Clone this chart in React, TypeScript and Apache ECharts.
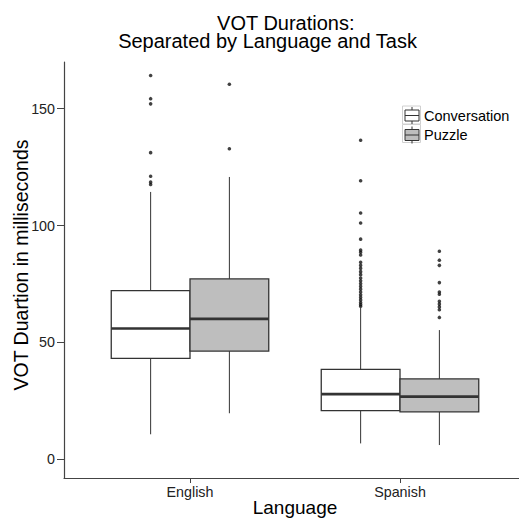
import React, { useEffect, useRef } from "react";
import * as echarts from "echarts";

const categories = ["English", "Spanish"];
const seriesNames = ["Conversation", "Puzzle"];
// [low whisker, Q1, median, Q3, high whisker]
const conversationStats = [
  [10.7, 43.2, 56.0, 72.2, 114.4],
  [6.8, 20.8, 27.9, 38.5, 64.8],
];
const puzzleStats = [
  [19.7, 46.3, 60.1, 77.2, 120.8],
  [6.1, 20.3, 26.8, 34.4, 55.3],
];
const conversationOutliers = [
  [164.2, 154.3, 152.1, 131.2, 121.1, 118.6, 117.6],
  [136.5, 119.2, 105.4, 101.1, 94.2, 89.5, 88.6, 87.4, 84.3, 83.0, 81.7, 80.3, 79.0, 77.6, 76.4, 75.2, 74.0, 72.8, 71.6, 70.4, 69.3, 68.2, 67.1, 66.2, 65.5],
];
const puzzleOutliers = [
  [160.5, 132.9],
  [89.0, 85.2, 83.0, 75.6, 71.6, 70.6, 67.6, 66.4, 65.2, 64.0, 60.7],
];
const yTicks = [0, 50, 100, 150];

const FONT = "Liberation Sans";
const BOX_W = 0.375;
const DODGE = [-0.1875, 0.1875];
const FILLS = ["#FFFFFF", "#BEBEBE"];

function boxSeries(name: string, stats: number[][], idx: number, fill: string) {
  return {
    name,
    type: "custom",
    itemStyle: { color: fill, borderColor: "#333" },
    data: stats.map((s, i) => [i + 1, ...s]),
    encode: { x: 0, y: [1, 2, 3, 4, 5] },
    renderItem: (params: any, api: any) => {
      const xc = api.value(0) + DODGE[idx];
      const lo = api.value(1), q1 = api.value(2), md = api.value(3), q3 = api.value(4), hi = api.value(5);
      const pLeft = api.coord([xc - BOX_W / 2, q3]);
      const pRight = api.coord([xc + BOX_W / 2, q1]);
      const pc = api.coord([xc, md]);
      const pLo = api.coord([xc, lo]);
      const pHi = api.coord([xc, hi]);
      const lineStyle = { stroke: "#333", lineWidth: 1 };
      return {
        type: "group",
        children: [
          { type: "line", shape: { x1: pc[0], y1: pHi[1], x2: pc[0], y2: pLeft[1] }, style: lineStyle },
          { type: "line", shape: { x1: pc[0], y1: pRight[1], x2: pc[0], y2: pLo[1] }, style: lineStyle },
          {
            type: "rect",
            shape: { x: pLeft[0], y: pLeft[1], width: pRight[0] - pLeft[0], height: pRight[1] - pLeft[1] },
            style: { fill, stroke: "#333", lineWidth: 1.3 },
          },
          { type: "line", shape: { x1: pLeft[0], y1: pc[1], x2: pRight[0], y2: pc[1] }, style: { stroke: "#333", lineWidth: 2.6 } },
        ],
      };
    },
  };
}

function outlierSeries(name: string, outs: number[][], idx: number) {
  const data: number[][] = [];
  outs.forEach((arr, i) => arr.forEach((v) => data.push([i + 1 + DODGE[idx], v])));
  return {
    name,
    type: "scatter",
    symbol: "circle",
    symbolSize: 3.6,
    itemStyle: { color: "#111" },
    data,
  };
}

const legendIcon = "path://M7,0L7,3M0,3L14,3L14,14L0,14ZM0,8.5L14,8.5M7,14L7,17";

export default function App() {
  const ref = useRef<HTMLDivElement>(null);
  useEffect(() => {
    if (!ref.current) return;
    const chart = echarts.init(ref.current, undefined, { renderer: "svg" });
    chart.setOption({
      animation: false,
      backgroundColor: "#fff",
      textStyle: { fontFamily: FONT },
      title: {
        text: "{a|VOT Durations:}\n{b|Separated by Language and Task}",
        left: 267.5,
        top: 14,
        textAlign: "center",
        padding: 0,
        textStyle: {
          fontFamily: FONT,
          fontSize: 20,
          fontWeight: "normal",
          color: "#000",
          lineHeight: 18,
          rich: {
            a: { fontFamily: FONT, fontSize: 20, color: "#000", lineHeight: 18, padding: [0, 0, 0, 36.6] },
            b: { fontFamily: FONT, fontSize: 20, color: "#000", lineHeight: 18 },
          },
        },
      },
      graphic: [
        { type: "rect", z: 1, shape: { x: 402.5, y: 106, width: 18, height: 18 }, style: { fill: "#fff", stroke: "#d0d0d0", lineWidth: 1 } },
        { type: "rect", z: 1, shape: { x: 402.5, y: 124.5, width: 18, height: 18 }, style: { fill: "#fff", stroke: "#d0d0d0", lineWidth: 1 } },
      ],
      legend: {
        orient: "vertical",
        left: 404.5,
        top: 106.5,
        padding: 0,
        itemWidth: 14,
        itemHeight: 17,
        itemGap: 1.5,
        selectedMode: false,
        textStyle: { fontFamily: FONT, fontSize: 14.5, color: "#000", lineHeight: 17 },
        data: seriesNames.map((n, i) => ({
          name: n,
          icon: legendIcon,
          itemStyle: { color: FILLS[i], borderColor: "#333", borderWidth: 1 },
        })),
      },
      grid: { left: 64, top: 62, width: 462, height: 416, containLabel: false, outerBoundsMode: "none" },
      xAxis: {
        type: "value",
        min: 0.4,
        max: 2.6,
        name: "Language",
        nameLocation: "middle",
        nameGap: 20,
        nameMoveOverlap: false,
        nameTextStyle: { fontFamily: FONT, fontSize: 19, color: "#000", lineHeight: 19 },
        axisLine: { show: true, onZero: false, lineStyle: { color: "#444", width: 1.2 } },
        axisTick: { show: true, length: 5, customValues: [1, 2], lineStyle: { color: "#444" } },
        axisLabel: {
          customValues: [1, 2],
          margin: 7,
          fontFamily: FONT,
          fontSize: 14.3,
          color: "#222",
          formatter: (v: number) => categories[Math.round(v) - 1] ?? "",
        },
        splitLine: { show: false },
      },
      yAxis: {
        type: "value",
        min: -8,
        max: 170,
        name: "VOT Duartion in milliseconds",
        nameLocation: "middle",
        nameRotate: 90,
        nameGap: 33,
        nameMoveOverlap: false,
        nameTextStyle: { fontFamily: FONT, fontSize: 19.5, color: "#000", lineHeight: 19.5, padding: [0, 0, 0, 10] },
        axisLine: { show: true, onZero: false, lineStyle: { color: "#444", width: 1.2 } },
        axisTick: { show: true, length: 7, customValues: yTicks, lineStyle: { color: "#444" } },
        axisLabel: { customValues: yTicks, margin: 9, fontFamily: FONT, fontSize: 14.3, color: "#222" },
        splitLine: { show: false },
      },
      series: [
        boxSeries(seriesNames[0], conversationStats, 0, FILLS[0]),
        boxSeries(seriesNames[1], puzzleStats, 1, FILLS[1]),
        outlierSeries("Conversation outliers", conversationOutliers, 0),
        outlierSeries("Puzzle outliers", puzzleOutliers, 1),
      ],
    });
    return () => chart.dispose();
  }, []);
  return <div ref={ref} style={{ position: "fixed", left: 0, top: 0, width: 519, height: 521 }} />;
}
